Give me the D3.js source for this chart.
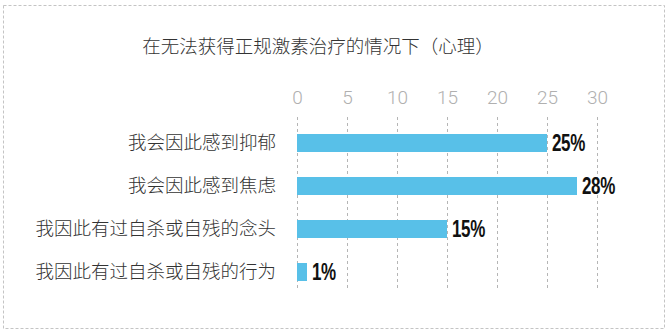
<!DOCTYPE html>
<html>
<head>
<meta charset="utf-8">
<script src="https://cdn.jsdelivr.net/npm/d3@7"></script>
<style>
  html, body { margin: 0; padding: 0; background: #fff; }
</style>
</head>
<body>
<div id="chart"></div>
<script>
const title = "在无法获得正规激素治疗的情况下（心理）";
const categories = ["我会因此感到抑郁", "我会因此感到焦虑", "我因此有过自杀或自残的念头", "我因此有过自杀或自残的行为"];
const values = [25, 28, 15, 1];
const tickValues = [0, 5, 10, 15, 20, 25, 30];

const W = 672, H = 334;
const svg = d3.select("#chart").append("svg")
  .attr("width", W)
  .attr("height", H);

// dashed frame
svg.append("rect")
  .attr("x", 3.5).attr("y", 5.5)
  .attr("width", 661).attr("height", 323)
  .attr("fill", "none")
  .attr("stroke", "#c4c4c4")
  .attr("stroke-dasharray", "3,2");

const x = d3.scaleLinear().domain([0, 30]).range([297, 597]);
const y = d3.scalePoint().domain(categories).range([143, 272]);
const barH = 18;

svg.append("text")
  .attr("x", 318).attr("y", 47)
  .attr("dy", "0.35em")
  .attr("text-anchor", "middle")
  .style("font-family", "'Noto Sans CJK SC', sans-serif")
  .style("font-weight", 300)
  .style("font-size", "18.5px")
  .style("fill", "#333")
  .text(title);

// gridlines
svg.selectAll("line.grid")
  .data(tickValues)
  .enter()
  .append("line")
  .attr("class", "grid")
  .attr("x1", d => x(d) + 0.5).attr("x2", d => x(d) + 0.5)
  .attr("y1", 117).attr("y2", 291)
  .attr("stroke", "#b5b5b5")
  .attr("stroke-dasharray", "3,3");

// tick labels on top
const axis = svg.append("g")
  .attr("transform", "translate(0,104)")
  .call(d3.axisTop(x).tickValues(tickValues).tickSize(0).tickPadding(0));
axis.select(".domain").remove();
axis.selectAll("text")
  .style("font-family", "Roboto, sans-serif")
  .style("font-weight", 300)
  .style("font-size", "19px")
  .style("fill", "#b0b0b0");

svg.selectAll("rect.bar")
  .data(values)
  .enter()
  .append("rect")
  .attr("class", "bar")
  .attr("x", x(0))
  .attr("y", (d, i) => y(categories[i]) - barH / 2)
  .attr("width", d => x(d) - x(0))
  .attr("height", barH)
  .attr("fill", "#58c0e8");

svg.selectAll("text.cat")
  .data(categories)
  .enter()
  .append("text")
  .attr("class", "cat")
  .attr("x", 276)
  .attr("y", d => y(d))
  .attr("dy", "0.35em")
  .attr("text-anchor", "end")
  .style("font-family", "'Noto Sans CJK SC', sans-serif")
  .style("font-weight", 300)
  .style("font-size", "18.5px")
  .style("fill", "#333")
  .text(d => d);

// condensed bold value labels
svg.selectAll("text.val")
  .data(values)
  .enter()
  .append("text")
  .attr("class", "val")
  .attr("transform", (d, i) => `translate(${x(d) + 5},${y(categories[i])}) scale(0.74,1)`)
  .attr("dy", "0.36em")
  .style("font-family", "'Liberation Sans', Arial, sans-serif")
  .style("font-weight", "bold")
  .style("font-size", "23px")
  .style("letter-spacing", "-0.5px")
  .style("fill", "#111")
  .text(d => d + "%");
</script>
</body>
</html>
